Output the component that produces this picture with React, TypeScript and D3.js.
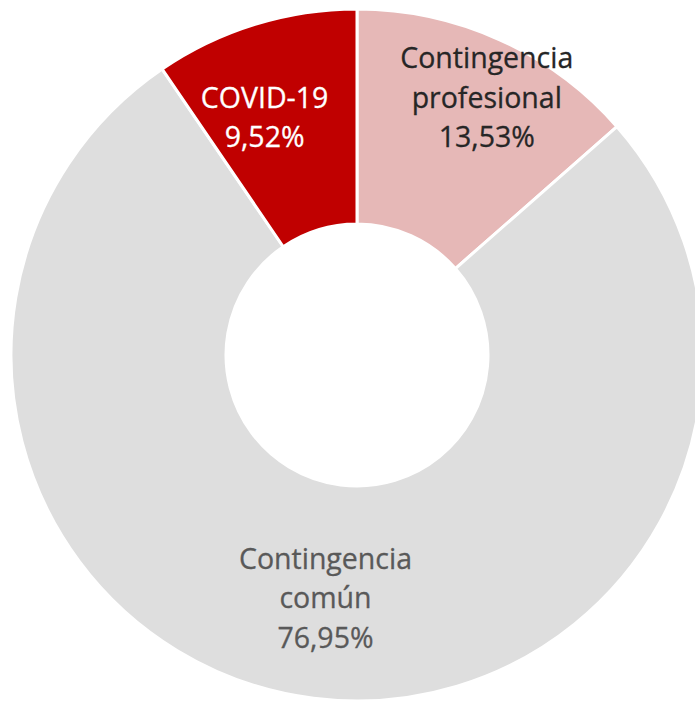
import React from "react";
import * as d3 from "d3";

const categories = ["Contingencia profesional", "Contingencia común", "COVID-19"];
const values = [13.53, 76.95, 9.52];
const labelLines = [
  ["Contingencia", "profesional", "13,53%"],
  ["Contingencia", "común", "76,95%"],
  ["COVID-19", "9,52%"],
];

const colors = ["#E6B8B7", "#DEDEDE", "#C00000"];
const textColors = ["#262626", "#595959", "#FFFFFF"];
const labelRadius = [288, 243, 256];
const labelNudge = [
  [11, 5],
  [-1, 2],
  [-17, 7],
];

const W = 695;
const H = 701;
const cx = 357;
const cy = 355;
const outerR = 346;
const innerR = 131;
const lineH = 39.5;

export default function App() {
  const data = categories.map((c, i) => ({ c, v: values[i], i }));
  const pie = d3.pie<any>().value((d) => d.v).sort(null);
  const arcs = pie(data);
  const arc = d3.arc<any>().innerRadius(innerR).outerRadius(outerR);

  return (
    <svg
      width={W}
      height={H}
      style={{ position: "absolute", left: 0, top: 0, background: "#fff" }}
    >
      <g transform={`translate(${cx},${cy})`}>
        {arcs.map((a, i) => (
          <path
            key={i}
            d={arc(a) as string}
            fill={colors[i]}
            stroke="#fff"
            strokeWidth={3}
          />
        ))}
        {arcs.map((a, i) => {
          const la = d3.arc<any>().innerRadius(labelRadius[i]).outerRadius(labelRadius[i]);
          const [x0, y0] = la.centroid(a);
          const x = x0 + labelNudge[i][0];
          const y = y0 + labelNudge[i][1];
          const lines = labelLines[i];
          return (
            <text
              key={"t" + i}
              textAnchor="middle"
              fontFamily="'Open Sans', sans-serif"
              fontSize={28.5}
              fill={textColors[i]}
              stroke={textColors[i]}
              strokeWidth={0.3}
            >
              {lines.map((l, j) => (
                <tspan key={j} x={x} y={y + (j - (lines.length - 1) / 2) * lineH + 10}>
                  {l}
                </tspan>
              ))}
            </text>
          );
        })}
      </g>
    </svg>
  );
}
